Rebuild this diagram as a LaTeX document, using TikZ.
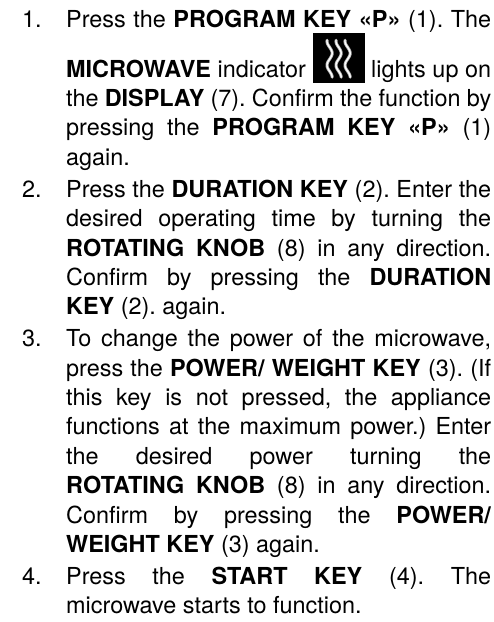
\documentclass[tikz,border=0pt]{standalone}
\usepackage{fontspec}
\setmainfont{TeX Gyre Heros}
\usetikzlibrary{positioning}

\tolerance=10000
\hbadness=10000
\hyphenpenalty=10000
\frenchspacing

% struts that fix the first and last line of every step
\newcommand{\topstrut}{\rule{0pt}{20.65bp}}
\newcommand{\botstrut}{\rule[-8.85bp]{0pt}{8.85bp}}

% microwave indicator icon, set inside the text
\newcommand{\waveicon}{%
  \tikz[baseline=6bp, x=1bp, y=1bp]{%
    \fill[black] (0,0) rectangle (52,50);
    \foreach \dx in {17,26,35} {
      \draw[gray!55, line width=3bp, line cap=round, domain=6:43, samples=30, smooth, variable=\t]
        plot ({\dx+2.6*sin(\t*15)}, {\t});
      \draw[white, line width=1.3bp, line cap=round, domain=6:43, samples=30, smooth, variable=\t]
        plot ({\dx+2.6*sin(\t*15)}, {\t});
    }%
  }}

\begin{document}
\begin{tikzpicture}[x=1bp, y=1bp,
    listtext/.style={font=\fontsize{23.5}{29.5}\selectfont},
    stepbody/.style={listtext, anchor=north west, inner sep=0pt, text width=425bp, align=justify},
    stepnum/.style={listtext, anchor=base west, inner sep=0pt}]

    % 1. Page frame
    \fill[white] (0,0) rectangle (494,-622);
    \useasboundingbox (0,0) rectangle (494,-622);

    % 2. The four steps, one below the other
    \node[stepbody] (step1) at (66,-6.4) {\topstrut Press the \textbf{PROGRAM KEY «P»} (1). The\linebreak
        \textbf{MICROWAVE} indicator \waveicon{} lights up on\linebreak
        the \textbf{DISPLAY} (7). Confirm the function by\linebreak
        pressing the \textbf{PROGRAM KEY «P»} (1)\linebreak
        again.\botstrut};
    \node[stepbody, below=2bp of step1.south west, anchor=north west] (step2) {\topstrut Press the \textbf{DURATION KEY} (2). Enter the\linebreak
        desired operating time by turning the\linebreak
        \textbf{ROTATING KNOB} (8) in any direction.\linebreak
        Confirm by pressing the \textbf{DURATION}\linebreak
        \textbf{KEY} (2). again.\botstrut};
    \node[stepbody, below=2bp of step2.south west, anchor=north west] (step3) {\topstrut To change the power of the microwave,\linebreak
        press the \textbf{POWER/ WEIGHT KEY} (3). (If\linebreak
        this key is not pressed, the appliance\linebreak
        functions at the maximum power.) Enter\linebreak
        the desired power turning the\linebreak
        \textbf{ROTATING KNOB} (8) in any direction.\linebreak
        Confirm by pressing the \textbf{POWER/}\linebreak
        \textbf{WEIGHT KEY} (3) again.\botstrut};
    \node[stepbody, below=2bp of step3.south west, anchor=north west] (step4) {\topstrut Press the \textbf{START KEY} (4). The\linebreak
        microwave starts to function.\botstrut};

    % 3. Step numbers in the margin
    \foreach \n in {1,...,4}
        \node[stepnum] (num\n) at ([xshift=-44bp]step\n.base west) {\n.};

\end{tikzpicture}
\end{document}
